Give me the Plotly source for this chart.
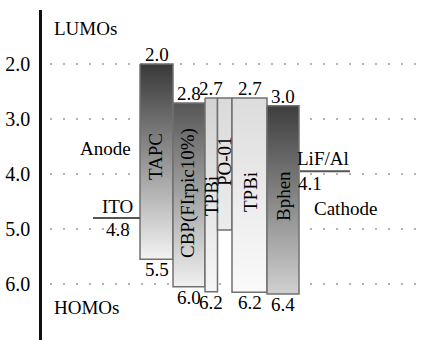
import plotly.graph_objects as go

# ---- data (levels in eV) ----
layers = ["TAPC", "CBP(FIrpic10%)", "TPBi", "PO-01", "TPBi", "Bphen"]
lumo_drawn = [2.0, 2.71, 2.62, 2.62, 2.62, 2.76]
homo_drawn = [5.55, 6.05, 6.14, 5.02, 6.15, 6.18]
lumo_text = ["2.0", "2.8", "2.7", "", "2.7", "3.0"]
homo_text = ["5.5", "6.0", "6.2", "", "6.2", "6.4"]
ito_level = 4.8
ito_text = "4.8"
cathode_level = 3.95
cathode_text = "4.1"
tick_vals = [2.0, 3.0, 4.0, 5.0, 6.0]
tick_text = ["2.0", "3.0", "4.0", "5.0", "6.0"]

# ---- layout / style (not data) ----
W, H = 427, 340
ML, MT = 42, 10
PX_PER_UNIT = 55.0
Y0_PX = 64.0  # pixel row of level 2.0


def py2y(py):
    return 2.0 + (py - Y0_PX) / PX_PER_UNIT


def px2x(px):
    return px - ML


bar_left_px = [140, 173, 205, 217.5, 232, 267]
bar_right_px = [173, 205, 217.5, 232, 267, 299]
top_col = ["#383838", "#565656", "#d2d2d2", "#dadada", "#dcdcdc", "#3e3e3e"]
bot_col = ["#f3f3f3", "#f0f0f0", "#f6f6f6", "#ececec", "#fafafa", "#d0d0d0"]
name_pos_px = [(155, 157), (188, 193), (211, 196), (224, 161), (250, 192), (283, 196)]

FONT = "Liberation Serif"
FS = 19

fig = go.Figure()

# dotted grid lines
for v in tick_vals:
    fig.add_trace(go.Scatter(
        x=[px2x(50), px2x(430)], y=[v, v], mode="lines",
        line=dict(color="#9a9a9a", width=1.6, dash="2px,11px"),
        hoverinfo="skip", showlegend=False))

# energy level boxes
for i, name in enumerate(layers):
    x0, x1 = px2x(bar_left_px[i]), px2x(bar_right_px[i])
    t, b = lumo_drawn[i], homo_drawn[i]
    fig.add_trace(go.Scatter(
        x=[x0, x1, x1, x0, x0], y=[t, t, b, b, t], mode="lines",
        fill="toself",
        fillgradient=dict(type="vertical", start=t, stop=b,
                          colorscale=[[0, top_col[i]], [1, bot_col[i]]]),
        line=dict(color="#707070", width=1.5),
        hoverinfo="skip", showlegend=False))

# electrode lines
fig.add_trace(go.Scatter(x=[px2x(93), px2x(140)], y=[ito_level, ito_level], mode="lines",
                         line=dict(color="#555555", width=2), showlegend=False, hoverinfo="skip"))
fig.add_trace(go.Scatter(x=[px2x(300), px2x(350)], y=[cathode_level, cathode_level], mode="lines",
                         line=dict(color="#555555", width=2), showlegend=False, hoverinfo="skip"))

ann = []
font = dict(family=FONT, size=FS, color="#000000")
for i, name in enumerate(layers):
    xc = (px2x(bar_left_px[i]) + px2x(bar_right_px[i])) / 2
    if lumo_text[i]:
        ann.append(dict(x=xc, y=lumo_drawn[i], text=lumo_text[i], showarrow=False,
                        yanchor="bottom", yshift=-3, font=font))
    if homo_text[i]:
        ann.append(dict(x=xc, y=homo_drawn[i], text=homo_text[i], showarrow=False,
                        yanchor="top", yshift=2, font=font))
    nx, ny = name_pos_px[i]
    ann.append(dict(x=px2x(nx), y=py2y(ny), text=name, textangle=-90, showarrow=False,
                    font=font))

extra = [("LUMOs", 52, 28, "left"), ("HOMOs", 52, 307, "left"), ("Anode", 105, 148, "center"),
         ("ITO", 117, 206, "center"), (ito_text, 118, 229, "center"),
         ("LiF/Al", 323, 158, "center"), (cathode_text, 310, 183, "center"),
         ("Cathode", 345, 208, "center")]
for txt, x, y, xa in extra:
    ann.append(dict(x=px2x(x), y=py2y(y), text=txt, showarrow=False, xanchor=xa, font=font))

fig.update_layout(
    width=W, height=H,
    margin=dict(l=ML, r=0, t=MT, b=0),
    paper_bgcolor="white", plot_bgcolor="white",
    font=dict(family=FONT),
    annotations=ann,
    xaxis=dict(range=[0, W - ML], visible=False, fixedrange=True),
    yaxis=dict(range=[py2y(H), py2y(MT)], showgrid=False, zeroline=False,
               showline=True, linecolor="#111111", linewidth=2.5,
               tickvals=tick_vals, ticktext=tick_text, ticks="",
               tickfont=dict(family=FONT, size=20, color="#000000"),
               ticklabelstandoff=5),
)

fig.write_html("out.html")
